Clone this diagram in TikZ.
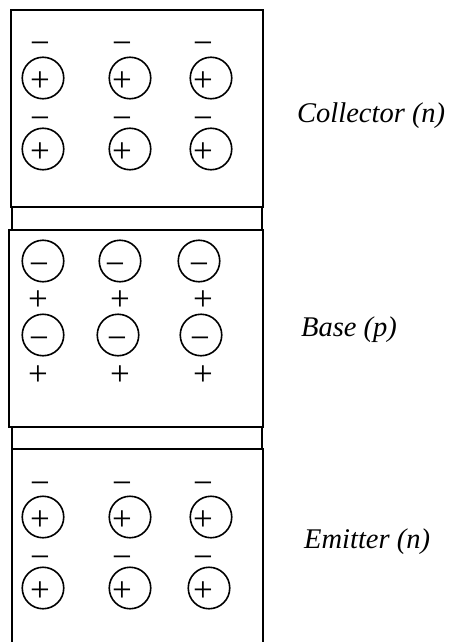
\documentclass[tikz,border=0pt]{standalone}
\usepackage{fontspec}
\setmainfont{Liberation Serif}
\begin{document}
\begin{tikzpicture}[x=1pt,y=-1pt,
  wall/.style={line width=1.6pt},
  ion/.style={circle,draw,line width=1.6pt,minimum size=41.5pt,inner sep=0pt},
  sgn/.style={anchor=base,inner sep=0pt,font=\fontsize{35}{35}\selectfont},
  lbl/.style={anchor=base west,inner sep=0pt,font=\fontsize{28.5}{30}\selectfont\itshape}]
\useasboundingbox (0,0) rectangle (448,642);
% regions
\draw[wall] (11,10) rectangle (263,207);
\draw[wall] (12,207) rectangle (262,230);
\draw[wall] (9,230) rectangle (263,427);
\draw[wall] (12,427) rectangle (262,449);
\draw[wall] (12,642) -- (12,449) -- (263,449) -- (263,642);
% collector
\foreach \cx/\sx/\n in {43/40/a,130/122/b,211/203/c}{
  \node[ion] (c1\n) at (\cx,78) {};
  \node[ion] (c2\n) at (\cx,149) {};
  \node[sgn] (cm1\n) at (\sx,55) {−};
  \node[sgn] (cp1\n) at (\sx,91) {+};
  \node[sgn] (cm2\n) at (\sx,129) {−};
  \node[sgn] (cp2\n) at (\sx,162) {+};
}
% base
\foreach \cx/\sx/\px/\n in {43/39/38/a,120/115/120/b,199/199/203/c}{
  \node[ion] (b1\n) at (\cx,261) {};
  \node[sgn] (bm1\n) at (\sx,275) {−};
  \node[sgn] (bp1\n) at (\px,310) {+};
}
\foreach \cx/\sx/\px/\n in {43/39/38/a,118/117/120/b,201/200/203/c}{
  \node[ion] (b2\n) at (\cx,335) {};
  \node[sgn] (bm2\n) at (\sx,349) {−};
  \node[sgn] (bp2\n) at (\px,385) {+};
}
% emitter
\foreach \cx/\sx/\n in {43/40/a,130/122/b,211/203/c}{
  \node[ion] (e1\n) at (\cx,517) {};
  \node[sgn] (em1\n) at (\sx,494) {−};
  \node[sgn] (ep1\n) at (\sx,530) {+};
}
\foreach \cx/\sx/\n in {43/40/a,130/122/b,209/203/c}{
  \node[ion] (e2\n) at (\cx,588) {};
  \node[sgn] (em2\n) at (\sx,568) {−};
  \node[sgn] (ep2\n) at (\sx,601) {+};
}
% labels
\node[lbl] (lc) at (297,122) {Collector (n)};
\node[lbl] (lb) at (301,336) {Base (p)};
\node[lbl] (le) at (304,548) {Emitter (n)};
\end{tikzpicture}
\end{document}
